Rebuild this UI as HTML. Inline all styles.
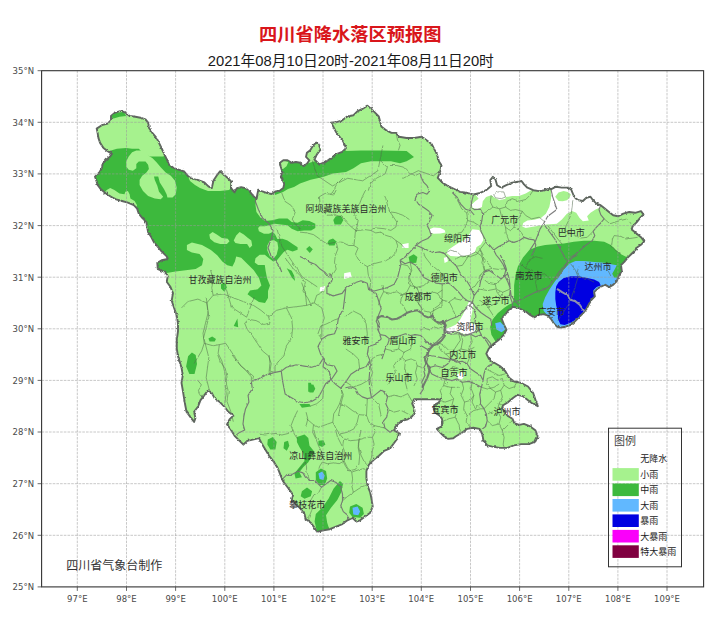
<!DOCTYPE html><html><head><meta charset="utf-8"><title>四川省降水落区预报图</title>
<style>html,body{margin:0;padding:0;background:#fff}svg{display:block}text{font-family:"Liberation Sans","Noto Sans CJK SC",sans-serif}.tk{font-family:"DejaVu Sans",sans-serif;font-size:8.5px;fill:#4a4a4a}.city{font-size:9px;fill:#2b2b2b}.lg{font-size:9px;fill:#222}</style></head><body>
<svg width="713" height="625" viewBox="0 0 713 625">
<rect width="713" height="625" fill="#fff"/>
<defs><clipPath id="prov"><path d="M115.2,112.6 L121.1,110.9 L125.3,112.6 L129.6,116.0 L135.4,116.8 L140.5,117.7 L145.5,119.4 L148.1,122.7 L148.9,127.8 L152.3,132.8 L156.5,137.9 L159.0,142.9 L161.5,148.0 L164.1,153.9 L166.6,158.9 L169.1,164.8 L174.2,168.2 L179.2,169.8 L184.2,171.5 L187.6,175.7 L191.0,178.3 L197.7,179.9 L204.4,182.5 L208.4,186.4 L211.8,188.1 L213.5,180.5 L216.8,175.4 L220.2,171.2 L223.6,174.6 L227.8,178.0 L231.1,181.3 L231.1,188.1 L234.5,192.3 L237.0,188.1 L241.2,187.2 L245.4,188.1 L249.6,191.4 L253.0,195.6 L256.4,199.0 L258.1,190.6 L262.3,191.4 L267.3,193.1 L271.5,194.0 L275.7,191.4 L279.9,190.6 L283.3,188.1 L284.2,183.9 L282.5,179.6 L280.8,177.1 L282.5,172.1 L280.8,167.0 L279.9,162.8 L283.3,160.3 L287.5,160.3 L291.7,162.8 L295.9,162.0 L300.1,162.8 L303.5,166.2 L306.9,163.7 L309.4,160.3 L306.0,156.9 L306.9,152.7 L310.2,150.2 L312.8,146.0 L316.1,142.6 L318.7,144.3 L320.7,149.4 L316.9,154.4 L314.4,159.5 L319.4,164.5 L325.7,162.0 L330.8,158.2 L335.8,154.4 L342.2,151.9 L346.0,148.1 L343.4,141.8 L339.6,136.7 L335.8,131.7 L333.3,126.6 L330.8,122.8 L335.8,122.3 L342.2,120.3 L347.2,116.5 L353.5,115.2 L357.3,111.4 L362.4,108.9 L367.4,105.6 L371.2,108.9 L375.0,112.7 L378.8,116.5 L380.1,121.5 L381.3,126.6 L386.4,130.4 L391.5,132.9 L396.5,132.9 L399.0,136.7 L406.6,138.0 L414.2,138.0 L421.8,136.7 L426.9,140.5 L431.9,144.3 L434.4,149.4 L437.0,154.4 L439.0,161.4 L441.5,165.2 L440.2,171.5 L437.7,177.8 L442.8,182.9 L449.1,186.7 L460.0,191.9 L466.8,192.8 L473.5,194.5 L480.2,192.8 L486.1,190.2 L491.2,186.0 L490.3,180.1 L492.9,176.8 L495.4,179.3 L497.1,185.2 L501.3,187.7 L506.3,185.2 L512.2,182.7 L518.1,181.8 L521.5,181.0 L524.0,184.4 L527.4,187.7 L533.3,190.2 L539.2,191.1 L545.0,190.2 L550.1,188.6 L550.9,189.3 L556.0,186.7 L561.9,187.6 L567.8,187.6 L571.1,189.3 L572.8,193.5 L574.5,197.7 L578.7,200.2 L582.9,201.0 L586.3,197.7 L590.5,196.8 L593.0,200.2 L596.4,203.6 L600.6,205.2 L604.8,208.6 L609.0,212.0 L613.2,215.3 L618.3,216.2 L623.3,213.7 L629.2,212.0 L635.1,212.8 L641.0,211.1 L643.5,214.5 L640.1,217.9 L636.8,222.1 L632.6,226.3 L631.7,229.6 L635.9,233.0 L641.0,237.2 L644.3,241.4 L641.0,244.8 L635.9,248.2 L636.1,249.3 L631.9,253.5 L627.7,257.7 L624.3,261.9 L621.0,265.2 L621.8,271.1 L618.5,276.2 L616.8,281.2 L613.4,284.6 L609.2,287.1 L605.0,284.6 L601.6,286.3 L597.4,288.8 L594.1,292.2 L594.9,296.4 L591.5,299.7 L589.0,304.0 L586.5,309.0 L583.1,313.2 L578.9,317.4 L574.7,321.6 L570.5,325.0 L565.4,326.7 L561.2,327.5 L557.0,326.7 L553.7,323.3 L551.1,319.1 L547.8,315.7 L543.6,314.1 L538.5,314.9 L534.3,317.4 L530.1,314.9 L525.9,311.5 L521.7,309.8 L519.2,308.1 L512.9,306.9 L509.1,309.4 L505.3,314.5 L501.5,318.3 L504.0,324.6 L506.5,329.6 L504.0,334.7 L499.0,339.7 L493.9,343.5 L488.8,348.6 L486.3,353.7 L488.8,358.7 L493.9,362.5 L500.2,366.3 L505.3,371.3 L509.1,377.7 L514.1,381.5 L520.4,382.7 L528.0,386.5 L533.1,392.8 L535.6,400.4 L537.8,406.2 L532.7,403.7 L527.7,399.9 L522.6,396.1 L517.6,394.8 L513.3,397.8 L508.2,402.1 L503.1,405.2 L502.1,407.9 L504.9,412.2 L508.2,416.3 L512.5,418.8 L514.3,423.1 L519.3,424.9 L523.9,423.9 L530.2,426.4 L535.3,430.2 L537.8,436.5 L535.3,441.6 L528.9,444.1 L521.3,444.1 L513.8,445.4 L507.4,447.9 L499.9,447.9 L492.3,446.6 L487.2,445.4 L483.4,440.3 L482.2,434.0 L479.6,428.9 L473.3,427.7 L467.0,428.9 L461.9,432.7 L455.6,436.5 L453.3,438.3 L448.3,438.9 L443.2,435.7 L439.4,431.9 L436.9,428.8 L440.7,426.9 L442.6,423.1 L441.9,418.7 L439.4,415.5 L435.6,413.0 L433.7,409.2 L434.4,404.8 L438.2,402.9 L441.3,399.7 L436.8,399.3 L431.8,399.3 L425.1,399.1 L420.0,399.3 L414.1,399.1 L412.2,403.5 L414.1,407.9 L414.8,413.0 L411.6,416.8 L407.8,419.3 L402.8,420.6 L399.0,423.1 L395.2,426.9 L394.5,430.7 L399.0,433.2 L397.7,438.3 L393.9,443.3 L390.1,448.4 L384.1,450.8 L379.0,455.8 L374.0,459.6 L368.9,464.7 L366.4,471.0 L366.4,478.6 L367.7,486.2 L370.2,492.5 L371.5,498.8 L372.7,506.4 L370.2,512.7 L365.1,516.5 L360.1,520.3 L356.3,521.6 L352.5,517.8 L347.4,520.3 L342.4,524.1 L336.1,526.6 L329.7,529.2 L323.4,530.4 L317.1,531.7 L314.6,527.9 L310.8,522.8 L305.7,519.0 L304.5,514.0 L300.7,508.9 L295.6,503.9 L291.8,500.1 L293.1,495.0 L290.6,491.2 L286.8,486.2 L283.0,481.1 L280.4,474.8 L277.9,468.5 L274.1,462.2 L269.1,455.8 L265.3,449.5 L261.5,443.2 L259.0,438.1 L253.9,439.4 L247.2,440.9 L243.4,444.7 L239.6,440.9 L234.6,435.8 L230.8,429.5 L227.0,424.5 L229.5,419.4 L233.3,415.6 L228.3,411.8 L224.5,406.8 L219.4,401.7 L214.4,397.9 L211.8,392.9 L208.0,390.3 L204.2,395.4 L200.4,400.4 L197.9,406.8 L194.1,411.8 L195.4,418.1 L194.1,421.9 L190.3,416.9 L186.5,411.8 L185.3,405.5 L184.0,397.9 L182.8,390.3 L181.5,382.8 L182.8,375.2 L181.5,367.6 L178.0,356.3 L176.8,348.7 L176.8,339.9 L178.0,331.0 L178.0,323.4 L176.8,315.8 L174.2,308.3 L171.7,300.7 L173.0,293.1 L170.4,286.8 L166.7,281.7 L167.9,275.4 L164.1,271.6 L157.8,269.1 L157.3,262.8 L161.6,260.2 L167.9,259.0 L166.7,256.4 L161.6,251.4 L156.5,245.1 L154.0,242.3 L151.4,237.2 L148.1,232.2 L147.2,227.1 L146.4,222.1 L142.2,217.9 L138.8,213.7 L137.1,208.6 L133.8,205.2 L127.9,202.7 L122.0,201.0 L116.1,199.4 L111.0,196.8 L106.0,193.5 L100.9,189.3 L97.6,185.0 L96.4,180.8 L95.0,176.6 L99.3,172.4 L101.8,168.2 L102.6,164.0 L106.0,159.7 L110.2,156.4 L111.9,153.9 L107.7,151.3 L103.5,148.0 L100.1,142.9 L98.4,137.9 L97.6,132.8 L96.7,128.6 L101.8,125.2 L107.7,123.6 L111.0,120.2 L111.0,116.0Z"/></clipPath><filter id="rough" x="-2%" y="-2%" width="104%" height="104%"><feTurbulence type="fractalNoise" baseFrequency="0.3" numOctaves="2" seed="7" result="n"/><feDisplacementMap in="SourceGraphic" in2="n" scale="2.6" xChannelSelector="R" yChannelSelector="G"/></filter><filter id="rough2" x="-2%" y="-2%" width="104%" height="104%"><feTurbulence type="fractalNoise" baseFrequency="0.22" numOctaves="2" seed="3" result="n"/><feDisplacementMap in="SourceGraphic" in2="n" scale="2.4" xChannelSelector="R" yChannelSelector="G"/></filter></defs>
<path d="M115.2,112.6 L121.1,110.9 L125.3,112.6 L129.6,116.0 L135.4,116.8 L140.5,117.7 L145.5,119.4 L148.1,122.7 L148.9,127.8 L152.3,132.8 L156.5,137.9 L159.0,142.9 L161.5,148.0 L164.1,153.9 L166.6,158.9 L169.1,164.8 L174.2,168.2 L179.2,169.8 L184.2,171.5 L187.6,175.7 L191.0,178.3 L197.7,179.9 L204.4,182.5 L208.4,186.4 L211.8,188.1 L213.5,180.5 L216.8,175.4 L220.2,171.2 L223.6,174.6 L227.8,178.0 L231.1,181.3 L231.1,188.1 L234.5,192.3 L237.0,188.1 L241.2,187.2 L245.4,188.1 L249.6,191.4 L253.0,195.6 L256.4,199.0 L258.1,190.6 L262.3,191.4 L267.3,193.1 L271.5,194.0 L275.7,191.4 L279.9,190.6 L283.3,188.1 L284.2,183.9 L282.5,179.6 L280.8,177.1 L282.5,172.1 L280.8,167.0 L279.9,162.8 L283.3,160.3 L287.5,160.3 L291.7,162.8 L295.9,162.0 L300.1,162.8 L303.5,166.2 L306.9,163.7 L309.4,160.3 L306.0,156.9 L306.9,152.7 L310.2,150.2 L312.8,146.0 L316.1,142.6 L318.7,144.3 L320.7,149.4 L316.9,154.4 L314.4,159.5 L319.4,164.5 L325.7,162.0 L330.8,158.2 L335.8,154.4 L342.2,151.9 L346.0,148.1 L343.4,141.8 L339.6,136.7 L335.8,131.7 L333.3,126.6 L330.8,122.8 L335.8,122.3 L342.2,120.3 L347.2,116.5 L353.5,115.2 L357.3,111.4 L362.4,108.9 L367.4,105.6 L371.2,108.9 L375.0,112.7 L378.8,116.5 L380.1,121.5 L381.3,126.6 L386.4,130.4 L391.5,132.9 L396.5,132.9 L399.0,136.7 L406.6,138.0 L414.2,138.0 L421.8,136.7 L426.9,140.5 L431.9,144.3 L434.4,149.4 L437.0,154.4 L439.0,161.4 L441.5,165.2 L440.2,171.5 L437.7,177.8 L442.8,182.9 L449.1,186.7 L460.0,191.9 L466.8,192.8 L473.5,194.5 L480.2,192.8 L486.1,190.2 L491.2,186.0 L490.3,180.1 L492.9,176.8 L495.4,179.3 L497.1,185.2 L501.3,187.7 L506.3,185.2 L512.2,182.7 L518.1,181.8 L521.5,181.0 L524.0,184.4 L527.4,187.7 L533.3,190.2 L539.2,191.1 L545.0,190.2 L550.1,188.6 L550.9,189.3 L556.0,186.7 L561.9,187.6 L567.8,187.6 L571.1,189.3 L572.8,193.5 L574.5,197.7 L578.7,200.2 L582.9,201.0 L586.3,197.7 L590.5,196.8 L593.0,200.2 L596.4,203.6 L600.6,205.2 L604.8,208.6 L609.0,212.0 L613.2,215.3 L618.3,216.2 L623.3,213.7 L629.2,212.0 L635.1,212.8 L641.0,211.1 L643.5,214.5 L640.1,217.9 L636.8,222.1 L632.6,226.3 L631.7,229.6 L635.9,233.0 L641.0,237.2 L644.3,241.4 L641.0,244.8 L635.9,248.2 L636.1,249.3 L631.9,253.5 L627.7,257.7 L624.3,261.9 L621.0,265.2 L621.8,271.1 L618.5,276.2 L616.8,281.2 L613.4,284.6 L609.2,287.1 L605.0,284.6 L601.6,286.3 L597.4,288.8 L594.1,292.2 L594.9,296.4 L591.5,299.7 L589.0,304.0 L586.5,309.0 L583.1,313.2 L578.9,317.4 L574.7,321.6 L570.5,325.0 L565.4,326.7 L561.2,327.5 L557.0,326.7 L553.7,323.3 L551.1,319.1 L547.8,315.7 L543.6,314.1 L538.5,314.9 L534.3,317.4 L530.1,314.9 L525.9,311.5 L521.7,309.8 L519.2,308.1 L512.9,306.9 L509.1,309.4 L505.3,314.5 L501.5,318.3 L504.0,324.6 L506.5,329.6 L504.0,334.7 L499.0,339.7 L493.9,343.5 L488.8,348.6 L486.3,353.7 L488.8,358.7 L493.9,362.5 L500.2,366.3 L505.3,371.3 L509.1,377.7 L514.1,381.5 L520.4,382.7 L528.0,386.5 L533.1,392.8 L535.6,400.4 L537.8,406.2 L532.7,403.7 L527.7,399.9 L522.6,396.1 L517.6,394.8 L513.3,397.8 L508.2,402.1 L503.1,405.2 L502.1,407.9 L504.9,412.2 L508.2,416.3 L512.5,418.8 L514.3,423.1 L519.3,424.9 L523.9,423.9 L530.2,426.4 L535.3,430.2 L537.8,436.5 L535.3,441.6 L528.9,444.1 L521.3,444.1 L513.8,445.4 L507.4,447.9 L499.9,447.9 L492.3,446.6 L487.2,445.4 L483.4,440.3 L482.2,434.0 L479.6,428.9 L473.3,427.7 L467.0,428.9 L461.9,432.7 L455.6,436.5 L453.3,438.3 L448.3,438.9 L443.2,435.7 L439.4,431.9 L436.9,428.8 L440.7,426.9 L442.6,423.1 L441.9,418.7 L439.4,415.5 L435.6,413.0 L433.7,409.2 L434.4,404.8 L438.2,402.9 L441.3,399.7 L436.8,399.3 L431.8,399.3 L425.1,399.1 L420.0,399.3 L414.1,399.1 L412.2,403.5 L414.1,407.9 L414.8,413.0 L411.6,416.8 L407.8,419.3 L402.8,420.6 L399.0,423.1 L395.2,426.9 L394.5,430.7 L399.0,433.2 L397.7,438.3 L393.9,443.3 L390.1,448.4 L384.1,450.8 L379.0,455.8 L374.0,459.6 L368.9,464.7 L366.4,471.0 L366.4,478.6 L367.7,486.2 L370.2,492.5 L371.5,498.8 L372.7,506.4 L370.2,512.7 L365.1,516.5 L360.1,520.3 L356.3,521.6 L352.5,517.8 L347.4,520.3 L342.4,524.1 L336.1,526.6 L329.7,529.2 L323.4,530.4 L317.1,531.7 L314.6,527.9 L310.8,522.8 L305.7,519.0 L304.5,514.0 L300.7,508.9 L295.6,503.9 L291.8,500.1 L293.1,495.0 L290.6,491.2 L286.8,486.2 L283.0,481.1 L280.4,474.8 L277.9,468.5 L274.1,462.2 L269.1,455.8 L265.3,449.5 L261.5,443.2 L259.0,438.1 L253.9,439.4 L247.2,440.9 L243.4,444.7 L239.6,440.9 L234.6,435.8 L230.8,429.5 L227.0,424.5 L229.5,419.4 L233.3,415.6 L228.3,411.8 L224.5,406.8 L219.4,401.7 L214.4,397.9 L211.8,392.9 L208.0,390.3 L204.2,395.4 L200.4,400.4 L197.9,406.8 L194.1,411.8 L195.4,418.1 L194.1,421.9 L190.3,416.9 L186.5,411.8 L185.3,405.5 L184.0,397.9 L182.8,390.3 L181.5,382.8 L182.8,375.2 L181.5,367.6 L178.0,356.3 L176.8,348.7 L176.8,339.9 L178.0,331.0 L178.0,323.4 L176.8,315.8 L174.2,308.3 L171.7,300.7 L173.0,293.1 L170.4,286.8 L166.7,281.7 L167.9,275.4 L164.1,271.6 L157.8,269.1 L157.3,262.8 L161.6,260.2 L167.9,259.0 L166.7,256.4 L161.6,251.4 L156.5,245.1 L154.0,242.3 L151.4,237.2 L148.1,232.2 L147.2,227.1 L146.4,222.1 L142.2,217.9 L138.8,213.7 L137.1,208.6 L133.8,205.2 L127.9,202.7 L122.0,201.0 L116.1,199.4 L111.0,196.8 L106.0,193.5 L100.9,189.3 L97.6,185.0 L96.4,180.8 L95.0,176.6 L99.3,172.4 L101.8,168.2 L102.6,164.0 L106.0,159.7 L110.2,156.4 L111.9,153.9 L107.7,151.3 L103.5,148.0 L100.1,142.9 L98.4,137.9 L97.6,132.8 L96.7,128.6 L101.8,125.2 L107.7,123.6 L111.0,120.2 L111.0,116.0Z" fill="#a6f28e"/>
<g clip-path="url(#prov)">
<path d="M108.5,151.3 L116.9,148.8 L126.2,148.0 L132.1,148.8 L138.8,148.8 L140.5,150.5 L149.7,156.4 L163.2,156.4 L175.0,150.0 L200.0,160.0 L250.0,185.0 L256.4,197.0 L256.4,197.6 L255.5,205.1 L256.4,211.9 L260.6,217.8 L264.8,221.1 L272.4,220.3 L279.1,218.6 L287.5,218.6 L291.7,222.0 L297.6,222.8 L302.7,220.3 L309.4,221.1 L315.3,223.7 L315.3,227.9 L311.1,230.4 L304.3,230.4 L297.6,231.2 L291.7,228.7 L287.5,225.3 L280.8,224.5 L274.9,223.7 L264.8,226.2 L259.7,226.2 L258.1,227.9 L258.9,231.2 L264.0,233.8 L269.0,233.8 L272.4,232.1 L274.9,234.1 L277.4,239.1 L282.5,238.8 L287.5,240.5 L292.6,243.9 L297.6,247.2 L297.6,249.7 L292.6,251.4 L287.5,249.7 L284.2,251.4 L280.8,255.6 L277.4,259.8 L273.2,261.5 L269.0,258.2 L264.8,254.8 L259.7,254.8 L255.5,258.2 L254.7,262.4 L258.1,264.9 L264.8,264.9 L265.6,270.8 L267.0,278.0 L270.0,285.5 L268.0,291.0 L268.0,298.0 L265.0,303.0 L259.0,302.0 L252.6,298.0 L247.5,294.3 L250.0,290.6 L257.7,289.3 L261.4,285.5 L259.0,278.0 L253.8,270.3 L247.5,264.0 L241.2,257.7 L236.2,256.4 L234.9,261.5 L232.4,266.5 L227.3,265.3 L222.3,261.5 L217.2,255.2 L210.9,250.1 L202.0,245.1 L191.9,242.5 L186.9,245.1 L186.9,250.1 L191.9,252.6 L199.5,253.9 L203.3,259.0 L202.0,265.3 L195.7,269.1 L185.6,270.3 L175.5,271.6 L166.7,272.9 L150.0,272.0 L140.0,240.0 L90.0,190.0 L85.0,160.0Z M110.2,116.8 L113.6,113.5 L123.7,111.8 L126.2,116.0 L119.5,116.8 L113.6,118.5Z M283.0,192.0 L288.0,189.0 L294.0,187.0 L300.0,183.5 L310.6,179.7 L323.0,177.0 L333.0,173.4 L346.0,172.0 L353.5,168.3 L361.0,163.2 L371.0,161.2 L391.0,161.2 L400.0,163.2 L406.6,161.2 L414.0,157.0 L406.6,151.0 L381.0,150.6 L361.0,150.6 L346.0,151.0 L340.0,140.0 L300.0,140.0 L270.0,160.0 L275.0,195.0Z M335.8,216.3 L340.9,215.8 L343.4,220.1 L340.9,224.4 L334.6,224.4 L333.3,220.1Z M329.0,240.0 L333.0,238.6 L336.5,241.5 L334.5,245.6 L329.0,245.6 L327.5,242.5Z M306.1,248.9 L309.4,245.9 L312.8,249.3 L309.8,253.1Z M408.6,256.9 L413.7,254.3 L417.4,256.9 L416.2,262.7 L409.9,263.2Z M221.0,284.2 L225.2,282.6 L226.9,287.6 L224.4,291.8 L221.0,288.5Z M286.7,268.3 L291.7,270.8 L294.2,275.8 L295.1,280.9 L291.7,277.5 L289.2,272.5Z M233.7,326.0 L237.4,318.4 L238.2,327.2Z M208.4,338.6 L212.2,336.6 L216.0,339.1 L214.7,341.6 L209.6,341.6Z M188.1,356.3 L191.9,352.5 L195.7,355.0 L197.0,363.9 L194.5,374.0 L189.4,374.0 L186.1,366.4Z M308.2,382.8 L310.8,382.8 L312.5,386.6 L311.5,391.7 L308.2,391.7Z M309.5,385.1 L313.3,384.6 L315.3,388.8 L313.3,392.6 L309.5,392.6 L308.3,388.8Z M299.4,404.0 L309.5,404.0 L310.8,406.5 L301.9,407.8Z M267.8,439.4 L272.9,436.9 L276.7,441.9 L275.4,449.5 L270.3,449.5 L267.3,444.5Z M284.2,441.9 L288.0,440.7 L289.3,445.7 L286.8,450.8 L283.5,448.3Z M296.9,436.9 L304.5,434.4 L308.3,438.1 L309.5,445.7 L314.6,452.1 L312.1,455.8 L308.3,462.2 L303.2,467.2 L299.4,472.3 L301.9,477.3 L295.6,478.6 L294.4,473.5 L299.4,467.2 L304.5,460.9 L303.2,453.3 L299.4,447.0 L296.9,441.9Z M318.4,440.7 L323.4,440.2 L325.4,444.5 L322.2,447.0 L318.4,445.2Z M315.8,472.3 L320.9,468.5 L326.0,471.0 L327.2,478.6 L324.7,484.9 L319.6,484.9 L315.8,479.9Z M301.9,491.2 L307.0,487.4 L312.1,491.2 L310.8,496.3 L304.5,498.8 L300.7,496.3Z M339.9,481.1 L343.1,483.7 L341.1,492.5 L337.3,500.1 L331.0,507.7 L326.0,515.3 L327.2,522.8 L329.7,530.4 L317.1,532.2 L314.6,521.6 L315.8,514.0 L322.2,507.7 L328.5,498.8 L333.5,488.7Z M350.0,506.4 L356.3,503.9 L362.6,507.7 L363.9,514.0 L360.1,517.8 L352.5,517.0 L349.2,512.7Z M495.2,341.0 L491.4,334.7 L490.1,327.1 L492.6,319.5 L497.7,313.2 L504.0,308.1 L509.1,304.4 L512.9,303.1 L514.1,295.5 L514.1,285.4 L515.4,275.3 L517.9,266.4 L523.0,257.6 L529.3,250.0 L536.8,246.7 L545.2,245.0 L553.7,244.2 L563.8,243.4 L573.9,241.7 L584.0,240.8 L594.1,240.8 L604.2,241.7 L610.9,245.0 L615.9,250.1 L621.0,254.3 L626.0,256.8 L629.4,256.0 L660.0,250.0 L660.0,340.0 L500.0,345.0Z" fill="#3db93d"/>
<path d="M145.5,149.6 L140.5,150.5 L136.3,150.5 L132.1,152.2 L128.7,156.4 L126.2,161.4 L126.2,166.5 L128.7,169.8 L132.9,170.7 L136.3,168.2 L136.3,164.0 L138.8,161.4 L145.5,161.4 L148.1,164.8 L148.9,169.0 L146.4,172.4 L142.2,175.7 L139.6,179.9 L139.6,185.0 L143.0,190.9 L148.1,195.9 L154.8,198.5 L160.7,199.3 L163.2,196.8 L159.0,191.7 L157.3,185.8 L154.8,179.9 L154.0,176.6 L158.2,176.6 L159.8,182.5 L164.1,189.2 L166.6,194.2 L167.4,197.6 L172.5,197.6 L175.8,194.2 L176.7,187.5 L175.0,180.8 L170.8,175.7 L165.7,172.4 L160.7,167.3 L156.5,162.3 L152.3,158.1 L149.7,156.4 L148.1,154.7Z M106.8,190.1 L110.2,188.1 L114.4,190.1 L119.5,193.5 L124.5,194.3 L125.3,191.8 L127.9,190.9 L129.6,194.3 L130.4,198.5 L134.6,201.0 L137.1,205.2 L135.4,208.6 L123.7,204.4 L110.2,199.4 L103.5,193.5Z M187.0,174.0 L190.0,181.0 L195.0,185.0 L200.0,188.0 L208.0,191.0 L220.0,191.0 L229.0,190.0 L232.0,187.0 L236.0,170.0 L215.0,160.0 L190.0,165.0Z M209.3,234.6 L212.6,232.1 L216.8,234.6 L221.9,238.0 L227.8,238.8 L229.5,241.3 L226.9,243.9 L220.2,243.9 L214.3,242.2 L210.1,238.8Z M233.7,240.5 L236.2,235.5 L239.6,232.1 L243.8,234.6 L248.0,238.0 L251.3,240.5 L252.2,245.6 L249.7,248.1 L247.1,243.9 L240.4,243.9 L235.4,243.0Z M269.9,240.5 L267.3,245.6 L267.3,250.6 L269.9,256.5 L273.2,259.0 L276.6,254.8 L278.3,248.1 L277.4,242.2 L274.1,240.2Z M303.0,160.5 L306.0,164.0 L312.0,162.0 L318.5,160.5 L323.0,150.0 L318.0,138.0 L303.0,146.0Z M279.0,159.0 L288.4,162.0 L286.5,166.2 L283.0,169.0 L279.0,168.0Z" fill="#a6f28e"/>
<path d="M476.0,193.6 L476.0,195.3 L478.6,198.7 L475.2,201.2 L471.8,204.6 L472.7,207.9 L477.7,209.1 L481.9,207.1 L482.8,201.2 L486.1,197.0 L491.2,195.3 L494.6,197.8 L499.6,200.3 L505.5,198.7 L505.5,197.0 L512.2,196.1 L519.0,196.1 L525.7,193.6 L529.9,191.1 L534.1,188.6 L522.3,176.8 L488.7,173.4 L480.2,188.6Z M551.0,190.0 L556.0,180.0 L572.0,180.0 L578.0,194.0 L588.0,196.0 L592.0,192.0 L602.0,198.0 L606.0,208.6 L601.4,206.9 L595.6,209.5 L590.5,212.8 L587.1,216.2 L588.8,220.4 L582.9,221.2 L579.6,217.9 L576.2,212.8 L572.0,211.1 L566.9,213.7 L561.9,219.6 L556.8,223.8 L546.7,224.6 L540.0,225.5 L525.7,228.1 L522.3,226.4 L523.2,223.1 L527.4,220.6 L534.1,219.7 L540.9,218.0 L545.9,213.8 L549.3,207.1 L551.0,198.7Z M472.4,229.2 L479.1,230.1 L482.5,235.1 L483.3,240.2 L480.8,244.4 L476.6,246.9 L474.9,251.9 L470.7,255.0 L464.0,256.1 L457.2,256.6 L450.5,256.1 L446.3,252.8 L448.8,249.4 L453.9,246.0 L458.9,242.7 L464.0,240.2 L468.2,235.9Z M443.8,257.8 L447.1,257.0 L448.0,261.2 L444.6,262.9Z M429.5,229.2 L433.7,227.5 L440.4,228.0 L444.6,230.1 L445.5,232.6 L440.4,233.4 L433.7,233.8 L430.3,232.6Z M402.3,244.2 L408.6,243.0 L408.6,248.0 L402.3,248.0Z M344.1,273.3 L350.4,272.0 L351.7,277.1 L344.1,278.9Z M320.1,287.2 L325.2,285.9 L323.9,291.0 L319.6,291.5Z M469.4,301.0 L473.1,303.5 L472.5,310.3 L471.1,317.0 L470.3,322.9 L475.3,324.6 L476.2,329.6 L472.8,333.8 L467.7,334.7 L462.7,333.8 L458.5,331.3 L454.3,332.1 L449.2,333.8 L445.0,333.0 L445.5,329.1 L450.9,327.1 L456.0,324.6 L460.2,319.5 L463.5,313.6 L466.1,307.7Z M456.9,374.6 L461.9,372.0 L464.5,375.8 L461.9,379.6 L458.1,378.4Z" fill="#fff"/>
<path d="M555.2,196.8 L558.5,192.6 L563.6,190.9 L567.8,191.9 L570.8,194.5 L569.5,197.8 L567.0,200.2 L562.7,201.2 L558.5,201.0Z" fill="#a6f28e"/>
<path d="M553.7,323.3 L547.8,315.7 L543.6,310.7 L542.7,304.0 L545.2,297.2 L549.5,289.6 L554.5,282.1 L559.6,275.3 L564.6,268.6 L569.6,263.6 L575.5,261.0 L584.0,261.0 L594.1,261.9 L604.2,262.7 L612.6,264.4 L616.8,265.2 L614.2,270.3 L612.2,273.7 L614.2,277.4 L619.3,277.9 L627.7,283.8 L587.3,327.5 L562.1,330.9Z M495.2,323.3 L500.2,322.1 L504.0,325.8 L505.3,329.6 L501.5,332.2 L496.4,329.6Z M318.4,473.5 L322.2,471.5 L324.7,475.6 L323.4,479.9 L319.6,479.1Z M352.5,507.7 L357.6,506.4 L360.1,511.5 L358.3,515.3 L353.3,514.5Z" fill="#61b8ff"/>
<path d="M558.7,282.1 L563.8,277.9 L570.5,276.2 L578.9,276.2 L587.3,277.9 L594.1,279.6 L599.1,282.1 L600.8,285.4 L596.6,287.1 L593.2,290.5 L594.1,296.4 L590.7,299.7 L588.2,304.8 L585.6,309.0 L582.3,313.2 L578.1,317.4 L573.9,320.8 L569.6,323.3 L564.6,325.0 L560.4,324.2 L557.9,319.1 L557.9,312.4 L556.2,305.6 L555.3,298.9 L555.3,292.2 L556.2,286.3Z" fill="#0000e1"/>
<path d="M340.8,388.2 L343.3,394.5 L340.8,404.6 L338.3,416.0 M285.2,258.0 L292.8,268.1 L300.3,275.7 L305.4,283.3 L302.9,290.9 L307.9,298.4 L311.7,306.0 M321.8,338.9 L318.0,333.8 L320.6,326.3 L326.9,323.7 L334.5,319.9 L338.3,318.7 M345.8,316.1 L353.4,311.1 L361.0,314.9 L366.1,323.7 L367.3,333.8 L366.1,344.0 M345.8,349.0 L353.4,354.1 L358.5,359.1 L359.7,369.2 M372.4,398.3 L378.7,404.6 L381.2,416.0 M345.8,381.9 L353.4,386.9 L361.0,384.4 L369.9,379.3 M319.4,196.7 L325.2,193.4 L333.7,195.0 L336.2,190.0 M319.4,196.7 L320.2,205.1 L322.7,210.2 L326.9,215.2 L336.2,215.2 L342.1,216.9 L346.3,222.0 L350.5,226.2 L355.5,230.4 L357.2,226.2 L358.1,220.3 L353.9,215.2 L355.5,208.5 L359.7,203.5 L362.3,196.7 L365.6,190.0 M355.5,230.4 L354.7,238.8 L353.9,245.5 L358.1,248.1 L355.5,254.0 L358.1,259.0 L363.1,264.1 L367.3,266.6 L372.4,264.1 L379.1,262.4 L385.8,260.7 L391.7,257.3 L395.9,252.3 L397.6,245.5 L395.9,240.5 L391.7,237.1 L385.8,235.4 L380.8,232.1 L375.7,232.9 L370.7,230.4 L364.8,229.6 L359.7,230.4 L355.5,230.4 M370.7,230.4 L375.7,227.9 L384.2,228.7 L390.9,230.4 L395.9,227.0 L396.8,222.0 L393.4,216.9 L390.0,211.9 L387.5,205.1 L385.8,198.4 L384.2,195.0 M390.0,211.9 L395.9,212.7 L402.7,215.2 L409.4,219.5 M395.9,240.5 L401.0,243.9 L404.3,248.1 M300.0,232.1 L306.7,232.9 L313.5,234.6 L319.4,238.8 L326.9,243.9 L336.2,242.2 L342.1,242.2 L348.8,245.5 L353.9,245.5 M336.2,242.2 L337.9,248.9 L335.3,255.6 L334.5,262.4 L336.2,269.1 L331.1,277.5 M367.3,266.6 L368.2,274.2 L370.7,280.9 L369.8,289.3 M401.0,264.1 L407.7,265.7 L411.1,270.8 L409.4,277.5 L411.9,284.2 L417.8,289.3 M281.7,192.8 L284.9,201.3 L291.2,205.5 L295.4,211.8 L292.3,219.2 L295.4,224.5 L300.7,228.7 M343.0,178.0 L336.6,184.4 L332.4,192.8 L330.3,193.9 M381.0,161.1 L387.3,167.5 L385.2,173.8 L376.8,178.0 L370.4,183.3 L368.3,190.7 M421.9,247.7 L425.2,257.0 L430.3,263.7 L436.2,268.8 L442.1,273.8 L448.8,283.1 M444.6,253.6 L450.5,250.2 L457.2,251.9 L462.3,257.0 L469.0,255.3 L475.7,251.9 L480.8,255.3 L484.2,262.0 L484.2,272.1 M456.4,266.2 L462.3,265.4 L469.0,255.3 M410.1,262.0 L411.8,270.4 L408.4,277.2 L410.1,285.6 L406.7,292.3 L400.0,295.7 M410.1,285.6 L416.8,287.3 L423.6,285.6 L429.5,280.5 M416.8,287.3 L420.2,295.7 L418.5,304.1 L423.6,310.8 L430.3,312.5 L436.2,309.2 L442.1,305.8 L442.1,295.7 L442.1,283.9 M430.3,312.5 L432.0,319.2 L438.7,324.3 L445.4,321.8 M479.1,289.0 L487.5,290.6 L495.9,289.0 L502.7,292.3 L510.2,289.0 M475.7,307.5 L484.2,304.1 L490.9,305.8 L497.6,302.4 L502.7,292.3 M491.2,195.3 L490.3,202.0 L492.9,207.1 L499.6,208.8 L505.5,207.1 L510.5,210.4 L515.6,209.6 L522.3,211.3 L525.7,215.5 L531.6,218.9 L539.2,217.2 L545.0,222.2 M482.8,213.8 L488.7,210.4 L492.9,207.1 M505.5,207.1 L507.2,201.2 L512.2,198.7 L519.0,201.2 L525.7,199.5 L529.9,195.3 L533.3,190.2 M499.6,208.8 L501.3,215.5 L503.8,220.5 L505.5,227.3 L510.5,230.6 L513.9,227.3 L515.6,220.5 L519.8,217.2 L522.3,211.3 M505.5,227.3 L506.3,234.0 L508.9,240.7 M513.9,227.3 L519.0,229.8 L522.3,234.0 L524.0,237.4 M493.7,194.5 L497.1,191.9 L503.8,191.9 L505.5,197.0 L501.3,198.7 L495.4,197.8 L493.7,194.5 M455.0,197.0 L458.4,202.0 L461.7,208.8 L466.8,213.0 L471.0,207.1 M466.8,213.0 L467.6,220.5 L465.1,227.3 L461.7,232.3 L455.0,234.0 M467.6,220.5 L473.5,222.2 L480.2,226.4 M455.0,259.2 L461.7,255.9 L470.1,256.7 L476.9,254.2 L480.2,249.2 L486.1,241.6 M480.2,249.2 L483.6,255.9 L481.9,262.6 L484.5,270.0 M572.9,200.2 L572.1,207.0 L571.2,213.7 L568.7,220.4 L566.2,225.5 L564.5,230.5 L570.4,233.1 L575.4,235.6 L580.5,238.1 L587.2,237.3 L593.1,231.4 M547.7,225.5 L552.7,232.2 L557.8,239.0 L562.0,244.0 M604.1,218.8 L609.9,223.8 L615.0,222.1 L620.9,220.4 L627.6,218.8 L631.0,223.8 M612.5,239.0 L614.2,235.6 L620.9,236.4 L625.9,239.0 L632.7,238.1 L637.7,237.3 M612.5,239.0 L611.6,245.7 L615.8,250.7 L620.9,254.1 M578.8,266.7 L577.1,272.6 L580.5,277.7 M609.1,262.5 L607.4,269.2 L610.8,276.0 M470.0,288.7 L475.0,286.2 L478.4,281.1 L480.1,275.2 L485.1,270.2 L491.9,268.5 L498.6,269.4 L506.2,268.5 M480.1,250.0 L482.6,256.7 L486.8,261.8 L491.9,268.5 M480.1,275.2 L486.8,282.0 L495.2,283.7 L500.3,280.3 L504.5,275.2 M495.2,283.7 L496.9,292.1 L502.0,298.8 L509.6,295.4 M480.1,300.5 L486.8,305.5 L494.4,317.3 M520.5,263.5 L525.5,268.5 L532.3,270.2 L537.3,275.2 L535.6,282.0 L537.3,291.2 M525.5,268.5 L528.9,260.1 L535.6,256.7 L542.4,258.4 M537.3,275.2 L545.7,273.6 L552.5,282.0 M578.1,277.0 L573.9,290.5 L568.8,304.0 L562.1,314.1 L557.9,320.8 M578.1,277.0 L587.3,278.7 L594.1,282.1 M570.5,263.6 L575.5,270.3 L578.1,277.0 M445.2,325.9 L438.5,328.4 L433.5,326.7 L430.1,330.1 L425.0,328.4 L420.0,330.1 M458.7,333.5 L460.4,340.2 L457.0,345.2 L453.7,350.3 L451.1,359.6 M470.5,334.3 L472.2,341.9 L468.8,348.6 L470.5,355.3 L467.1,363.8 M436.8,341.9 L443.6,345.2 L448.6,350.3 L453.7,350.3 M445.2,378.9 L443.6,385.6 L440.2,390.7 L441.9,395.7 L441.0,399.1 M485.6,368.8 L492.4,372.2 L499.1,375.5 L505.0,373.9 M481.4,387.3 L487.3,389.0 L494.1,387.3 L499.1,384.0 M443.6,385.6 L450.3,387.3 L458.7,387.3 M323.6,390.2 L322.7,398.6 L316.8,403.7 L310.1,406.2 M341.2,386.8 L342.1,395.2 L339.6,403.7 L337.0,408.7 L333.7,413.8 L332.8,422.2 L336.2,428.9 L339.6,434.0 L343.8,439.0 L342.9,444.1 M339.6,403.7 L345.4,405.3 L352.2,410.4 L358.9,414.6 L366.5,415.4 L367.3,398.6 M358.9,414.6 L357.2,422.2 L353.9,428.9 L347.1,432.3 L339.6,434.0 M366.5,415.4 L369.0,422.2 L374.1,425.5 L380.8,427.2 L385.0,428.1 M374.1,425.5 L374.9,432.3 L372.4,437.3 L374.1,444.1 L372.4,450.8 L371.5,457.5 L368.2,467.6 M343.8,439.0 L350.5,440.7 L358.9,439.8 L367.3,437.3 L372.4,437.3 M358.9,439.8 L358.1,447.4 L359.7,455.8 L358.9,464.2 L355.5,469.3 L348.8,471.0 L345.4,465.9 L342.1,459.2 L342.9,444.1 M313.5,424.7 L318.5,427.2 L323.6,425.5 L332.8,422.2 M313.5,424.7 L312.6,432.3 L316.0,439.0 L318.5,445.7 L321.9,452.5 M306.7,418.8 L313.5,424.7 M387.5,396.9 L394.2,395.2 L401.0,396.9 L407.7,393.6 L411.9,401.1 M388.4,409.6 L394.2,412.1 L401.0,410.4 L407.7,413.8 L411.9,416.3 M269.1,355.0 L269.9,363.4 L269.1,371.8 L269.9,376.0 M217.8,355.0 L220.3,361.7 L225.3,368.5 L227.0,376.9 L225.3,385.3 L226.2,393.7 L224.5,405.5 M232.1,355.0 L238.8,363.4 L245.5,370.1 L251.4,376.9 L251.4,381.9 M197.6,380.2 L201.8,385.3 L198.4,390.3 L200.1,395.4 L204.3,395.4 M297.7,410.5 L294.3,417.3 L291.0,425.7 L294.3,434.1 L297.7,439.2 M306.1,412.2 L307.8,419.0 L306.1,425.7 M181.5,307.9 L187.8,301.6 L197.9,299.1 L206.8,302.9 L213.1,295.3 L211.8,287.7 L213.1,280.1 L210.6,270.0 M206.8,302.9 L208.0,313.0 L205.5,323.1 L203.0,333.2 L204.2,343.3 L201.7,350.9 L197.9,357.2 L194.1,363.5 M213.1,295.3 L223.2,294.0 L233.3,297.8 L243.4,301.6 L253.5,305.4 L261.1,310.4 L268.7,316.8 L270.0,323.1 L263.7,324.4 L256.1,320.6 L248.5,319.3 L244.7,323.1 L247.2,329.4 L252.3,335.7 L257.3,343.3 L262.4,350.9 L268.7,356.0 L271.2,363.5 L270.0,371.1 L275.0,372.4 M204.2,343.3 L213.1,345.8 L219.4,344.6 L225.7,343.3 L230.8,350.9 L235.8,358.5 L240.9,366.1 L247.2,371.1 L253.5,376.2 L252.3,381.2 M219.4,344.6 L218.1,353.4 L221.9,361.0 L224.5,371.1 L225.7,381.2 L228.3,391.3 L227.0,401.5 L230.8,411.6 L233.3,421.7 M268.7,316.8 L276.3,310.4 L286.4,307.9 L296.5,306.7 L306.6,305.4 L314.2,302.9 L316.7,295.3 L324.3,291.5 M286.4,307.9 L291.5,318.0 L292.7,328.1 L291.5,338.3 L286.4,345.8 L283.9,356.0 L278.8,361.0 L275.0,366.1 L275.0,372.4 M301.6,282.6 L305.4,292.8 L306.6,305.4 M314.2,302.9 L321.8,307.9 L324.3,318.0 L321.8,325.6 L321.8,337.0 M306.3,465.3 L307.1,472.9 L309.6,480.5 M321.4,487.2 L318.9,492.3 L313.9,494.8 L310.5,500.7 L312.2,509.1 L308.8,517.5 L308.8,523.4 M344.2,461.1 L347.5,467.9 L351.7,472.1 L352.6,478.8 L351.7,485.5 L353.4,492.3 L358.5,488.9 L362.7,486.4 L367.7,484.7 M351.7,472.1 L359.3,469.6 L364.3,468.7 L367.7,472.9 M335.7,430.0 L337.4,436.7 L340.8,443.5 L344.2,450.2 L344.2,461.1 L339.1,463.7 L334.1,462.8 L327.3,463.7 L322.3,462.0 L319.7,466.2 L318.9,468.7 M361.0,430.0 L359.3,438.4 L358.5,446.8 L361.0,455.2 L364.3,462.0 L370.2,467.9 M353.4,492.3 L347.5,496.5 L342.5,500.7 M260.0,434.2 L265.0,435.0 L270.1,434.2 L275.1,433.4 L281.9,435.0 L288.6,433.4 L293.7,430.0 M297.9,471.2 L302.1,466.2 L305.4,462.0 L306.3,465.3 M313.9,430.0 L315.5,436.7 L318.9,440.1 M381.9,285.0 L383.6,291.7 L380.2,298.5 L378.5,305.2 M383.6,291.7 L390.3,293.4 L397.0,291.7 L402.1,295.1 L400.4,301.8 L403.8,306.9 L407.1,312.8 M402.1,295.1 L408.8,293.4 L415.5,295.9 L420.6,293.4 L427.3,295.1 L432.4,291.7 L437.4,293.4 L442.5,290.0 M415.5,295.9 L417.2,301.8 L421.4,306.9 L421.4,312.8 M432.4,315.3 L434.1,308.6 L439.1,305.2 L442.5,300.1 L437.4,293.4 M442.5,300.1 L449.2,301.8 L454.2,298.5 L461.0,300.1 L462.7,297.6 M449.2,301.8 L452.6,308.6 L455.9,317.0 M385.2,349.0 L392.0,350.6 L398.7,349.0 L403.8,352.3 L402.1,357.4 L405.4,360.7 L410.5,359.1 L415.5,360.7 L417.2,365.8 L422.3,367.5 M398.7,349.0 L399.6,342.2 L400.4,335.5 M410.5,335.5 L412.2,342.2 L410.5,349.0 L403.8,352.3 M402.1,357.4 L397.0,360.7 L393.7,365.8 L395.3,372.5 L392.0,377.6 L388.6,384.3 M417.2,365.8 L415.5,372.5 L417.2,379.2 L413.9,386.0 M405.4,360.7 L404.6,369.2 L407.1,375.9 L405.4,382.6 L407.1,389.3 M383.6,354.0 L376.8,355.7 L371.8,359.1 L370.1,365.8 L372.6,372.5 L370.1,379.2 L371.8,386.0 M437.4,343.9 L440.8,350.6 L445.8,354.0 L450.9,359.1 M445.8,354.0 L454.2,352.3 L461.0,349.0 L467.7,350.6 L474.4,347.3 M461.0,333.8 L462.7,340.5 L461.0,349.0 M390.0,165.5 L396.7,165.5 L403.5,167.2 L408.5,172.3 L415.2,175.6 L420.3,173.1 M395.9,131.9 L397.6,140.3 L400.1,145.3 L398.4,150.4 M451.9,386.9 L450.2,393.7 L453.6,398.7 L451.9,405.4 L456.9,410.5 L455.2,417.2 L458.6,424.0 L460.3,430.7 L458.6,435.7 M462.0,381.9 L463.7,388.6 L461.1,395.3 L464.5,402.1 L463.7,408.8 L467.0,415.5 L466.2,422.3 L470.4,427.3 L471.2,429.0 M472.1,381.0 L471.2,388.6 L473.8,395.3 L472.1,402.1 L475.4,408.8 L480.5,403.8 M464.5,402.1 L470.4,400.4 L473.8,395.3 M467.0,415.5 L473.8,410.5 L480.5,408.8 L483.9,408.8 M446.8,384.4 L446.0,376.8 L448.5,370.1 L453.6,366.7 L458.6,368.4 M440.1,400.4 L445.1,402.1 L450.2,400.4 L453.6,398.7 M442.6,421.4 L448.5,418.9 L455.2,417.2 M487.2,378.5 L492.3,376.8 L497.3,380.2 L502.4,378.5 L504.1,385.2 L500.7,390.3 L495.6,392.0 L490.6,388.6 L487.2,383.6 L487.2,378.5 M504.1,385.2 L509.1,388.6 L514.2,386.9 L517.5,381.0 M500.7,390.3 L502.4,397.0 L499.0,403.8 L503.2,405.1 M495.6,392.0 L494.0,398.7 L488.9,403.8 L483.9,408.8 M499.0,403.8 L497.3,410.5 L500.7,417.2 L499.0,424.0 L502.4,430.7 L504.1,437.4 L503.2,444.2 L504.1,448.4 M486.4,413.9 L492.3,412.2 L497.3,410.5 M512.5,418.9 L509.1,424.0 L502.4,430.7 M499.0,424.0 L492.3,425.6 L487.2,420.6 M276.9,228.8 L282.0,246.5 L292.1,261.6 L302.2,276.8 L317.3,286.9 M206.2,297.0 L208.8,317.2 L203.7,337.4 L208.8,357.6 L206.2,377.7 L211.3,397.9 M226.4,289.4 L231.5,307.1 L246.6,317.2 L254.2,297.0 M403.1,178.3 L418.3,170.7 L433.4,175.8 L440.0,170.7 M312.3,160.6 L317.3,175.8 L332.5,185.9 L347.6,178.3 L362.7,180.8 L377.9,170.7 L382.9,145.5" fill="none" stroke="#4f6949" stroke-opacity="0.8" stroke-width="0.65" stroke-linejoin="round" filter="url(#rough2)"/>
<path d="M328.7,273.7 L330.7,274.4 L331.9,280.8 L326.9,287.1 L326.9,293.4 L333.2,295.9 L342.1,293.4 L345.8,288.3 L353.4,283.3 L361.0,280.8 L367.3,283.3 L368.6,289.6 L376.2,293.4 L378.7,301.0 L381.2,308.6 L378.7,314.9 L376.2,321.2 L377.4,323.7 L378.7,331.3 L381.2,338.9 L376.2,344.0 L368.6,346.5 L367.3,354.1 L369.9,360.4 L366.1,366.7 L358.5,369.2 L350.9,374.3 L345.8,381.9 L340.8,388.2 L335.7,384.4 L330.7,379.3 L329.4,371.8 L323.1,366.7 L324.4,359.1 L320.6,354.1 L318.0,346.5 L321.8,338.9 L328.1,335.1 L334.5,333.8 L337.0,327.5 L338.3,318.7 L343.3,308.6 L344.6,298.4 L345.8,288.3 M300.0,256.5 L305.0,259.0 L310.1,262.4 L316.0,264.9 L320.2,269.1 L325.2,272.5 L329.5,277.5 M369.8,289.3 L374.1,291.0 L380.8,289.3 L387.5,287.6 L394.2,284.2 L397.6,277.5 L399.3,270.8 L401.0,264.1 L400.0,260.4 M257.4,191.8 L255.3,201.3 L258.5,209.7 L262.7,218.2 L269.0,223.5 L273.2,230.8 L271.1,239.3 L268.0,247.7 L271.1,256.2 L275.4,260.4 L279.6,266.8 L281.7,272.0 M400.0,260.3 L405.0,257.0 L410.1,251.9 L416.0,245.2 L421.9,241.0 L427.8,238.5 L431.1,235.1 L429.5,230.0 L426.9,225.0 M416.0,245.2 L421.9,247.7 L427.8,250.2 L433.7,252.8 L439.6,251.9 L444.6,253.6 L450.5,260.3 L456.4,266.2 L460.6,273.8 L466.5,280.5 L470.7,287.3 L474.1,295.7 L472.4,302.4 M505.2,265.4 L507.7,273.8 L509.4,280.5 L510.2,289.0 L511.1,295.7 L516.1,302.4 L520.0,305.8 M400.0,260.3 L405.0,263.7 L410.1,262.0 L416.0,265.4 L420.2,271.3 L423.6,277.2 L429.5,280.5 L436.2,283.1 L442.1,283.9 L448.8,283.1 L453.9,287.3 L458.9,292.3 L463.1,297.4 L467.3,300.7 L472.4,302.4 L467.3,307.5 L462.3,312.5 L457.2,316.7 L450.5,319.2 L445.4,321.8 L443.8,326.0 L445.4,330.0 M472.4,302.4 L475.7,307.5 L480.8,312.5 L485.8,315.9 L490.9,319.2 L491.7,326.0 M474.1,295.7 L479.1,289.0 L480.8,280.5 L484.2,272.1 L489.2,270.4 L494.2,273.8 L501.0,278.9 L507.7,273.8 M473.5,194.5 L471.8,201.2 L471.0,207.1 L474.4,209.6 L480.2,209.1 L482.8,213.8 L481.9,220.5 L480.2,226.4 L481.1,231.5 L483.6,236.5 L486.1,241.6 L490.3,245.8 L493.7,250.0 L496.2,255.0 L499.6,259.2 L503.0,264.3 L505.5,270.0 M493.7,250.0 L498.8,246.6 L503.8,244.1 L508.9,240.7 L513.9,242.4 L519.0,240.7 L524.0,237.4 L529.1,239.1 L534.1,239.9 L535.8,244.9 L534.1,250.8 L531.6,255.9 M551.0,189.3 L552.7,196.9 L556.9,209.5 L547.7,216.2 L543.5,223.8 L540.1,228.9 L537.6,235.6 L535.0,242.3 L531.7,247.4 L530.0,249.9 M543.5,223.8 L548.5,230.5 L553.6,237.3 L557.8,244.0 L561.1,250.7 L564.5,256.6 L567.9,261.7 L573.8,255.8 L580.5,249.9 L586.4,244.8 L592.3,240.6 L594.8,235.6 L593.1,231.4 L596.5,227.2 L600.7,223.0 L604.1,218.8 L600.7,214.6 L599.0,209.5 L600.7,205.3 L597.3,201.9 M567.9,261.7 L565.3,266.7 L561.1,272.6 L556.9,279.3 M500.3,255.0 L503.7,261.8 L506.2,268.5 L504.5,275.2 L507.9,282.0 L510.4,288.7 L509.6,295.4 L512.1,302.2 L512.9,306.4 M512.9,302.2 L518.8,300.5 L525.5,297.1 L532.3,293.8 L537.3,291.2 L544.1,289.6 L549.1,286.2 L552.5,282.0 L555.8,276.9 L559.2,271.9 L563.4,266.8 L567.6,261.8 L572.7,257.6 L577.7,255.0 M470.0,305.5 L473.4,308.9 L475.9,315.6 L475.0,322.4 L478.4,329.1 L481.8,335.8 L486.8,341.7 L490.2,347.6 M442.7,320.0 L445.2,325.9 L446.1,331.8 L451.1,334.3 L458.7,333.5 L464.6,336.0 L470.5,334.3 L475.5,336.8 L480.6,335.1 L486.5,338.5 L490.7,343.6 L490.7,347.8 M446.1,331.8 L441.9,336.8 L436.8,341.9 L431.8,345.2 L427.6,349.5 L428.4,355.3 L426.7,362.1 L428.4,368.8 L431.8,373.9 L438.5,377.2 L445.2,378.9 L452.0,380.6 L457.0,378.9 L462.1,382.3 L468.8,381.4 L475.5,384.0 L481.4,387.3 M451.1,359.6 L456.2,362.1 L462.1,361.2 L467.1,363.8 L470.5,368.8 L475.5,372.2 L480.6,375.5 L483.1,380.6 L484.0,373.9 L485.6,368.8 L489.0,365.4 L494.1,362.9 M483.1,380.6 L481.4,387.3 L479.7,394.1 L480.6,400.8 L480.4,403.8 L484.0,408.7 L486.3,413.9 L487.2,420.6 L485.6,426.5 L481.3,429.9 M426.7,362.1 L423.4,368.8 L425.0,375.5 L421.7,382.3 L423.4,389.0 L420.0,394.1 M427.6,349.5 L423.4,346.9 L420.0,345.2 M428.4,355.3 L435.1,356.2 L441.9,357.9 L451.1,359.6 M369.8,360.4 L369.8,370.0 L369.0,380.1 L369.8,388.5 L371.5,397.8 L376.6,393.6 L380.8,390.2 L385.0,391.9 L387.5,396.9 L385.8,403.7 L388.4,409.6 L386.7,417.1 L383.3,421.3 L385.0,428.1 L390.0,432.3 L395.1,428.9 M345.4,387.7 L350.5,386.8 L355.5,388.5 L358.1,393.6 L362.3,396.9 L367.3,398.6 L371.5,397.8 M251.4,381.9 L252.3,388.7 L248.1,395.4 L248.9,402.1 L245.5,408.9 L243.9,416.4 L243.0,424.0 L244.7,429.9 L239.6,432.4 L236.3,434.9 M252.3,381.2 L258.6,378.7 L266.2,374.9 L275.0,372.4 L281.3,371.1 L286.4,367.3 L296.5,364.8 L304.1,366.1 L311.7,367.3 L319.3,364.8 L323.1,358.5 M281.3,371.1 L282.6,381.2 L285.1,393.9 L291.5,397.7 L297.8,401.5 L304.1,402.7 L311.7,401.5 L318.0,397.7 L321.8,391.3 L325.6,383.8 L331.9,378.7 L337.0,371.1 L334.4,366.1 L326.9,364.8 L323.1,358.5 M282.7,478.8 L286.9,474.6 L292.8,474.1 L297.9,471.2 L302.9,472.9 L305.4,477.1 L309.6,480.5 L314.7,480.5 L318.1,483.9 L321.4,487.2 L324.8,484.7 L330.7,480.5 L335.7,482.2 L340.4,486.4 L342.5,494.0 L342.5,500.7 L340.8,505.7 L343.3,511.6 L347.5,515.0 L349.2,519.2 M444.2,330.4 L449.2,332.1 L454.2,331.3 L461.0,333.8 L467.7,334.6 L474.4,332.1 L480.0,330.4 M429.8,367.5 L435.7,365.8 L442.5,367.5 L447.5,364.1 L450.9,359.1 L455.9,359.9 L461.0,364.1 M389.5,338.9 L395.3,337.2 L400.4,335.5 L405.4,333.8 L410.5,335.5 L415.5,334.6 L420.6,335.5 L424.8,339.7 L427.3,343.1 L433.2,345.6 M376.8,317.8 L379.4,323.7 L377.7,329.6 L380.2,334.6 L385.2,335.5 L389.5,338.9 L387.8,343.9 L385.2,349.0 L383.6,354.0 L381.9,359.1 M420.3,173.1 L421.1,177.3 L423.7,182.4 L427.0,185.7 L429.6,190.8 L427.0,194.2 L422.8,192.5 L416.9,194.2 L415.2,199.2 L418.6,204.2 L423.7,207.6 L428.7,211.0 L432.1,215.0 L430.1,220.2 L427.0,225.0 M452.3,192.5 L457.3,197.5 L460.7,204.2 L465.7,209.3 L470.8,211.0 L474.2,215.0" fill="none" stroke="#707070" stroke-opacity="0.9" stroke-width="1.15" stroke-linejoin="round" filter="url(#rough2)"/>
<path d="M557.0,288.8 L562.1,292.2 L568.0,295.5 L570.5,299.7 L575.5,301.4 L579.7,304.8 L583.1,309.8 L584.8,311.5" fill="none" stroke="#8c8fb0" stroke-width="2.0" stroke-linejoin="round" filter="url(#rough2)"/>
<path d="M376.8,317.8 L381.9,316.1 L386.9,317.0 L392.0,319.5 L397.0,318.7 L402.1,316.1 L407.1,312.8 L412.2,311.1 L417.2,310.2 L421.4,312.8 L424.8,316.1 L429.0,317.8 L432.4,315.3 L434.9,320.3 L439.1,322.9 L443.3,321.2 L445.8,325.4 L444.2,330.4 L445.0,335.5 L441.6,340.5 L437.4,343.9 L433.2,345.6 L429.8,349.0 L427.3,354.0 L424.8,359.1 L426.5,364.1 L429.8,367.5 L429.0,372.5 L427.3,377.6 L424.8,382.6 L422.3,387.7" fill="none" stroke="#6c6f6c" stroke-opacity="0.9" stroke-width="2.1" stroke-linejoin="round" filter="url(#rough2)"/>
</g>
<path d="M115.2,112.6 L121.1,110.9 L125.3,112.6 L129.6,116.0 L135.4,116.8 L140.5,117.7 L145.5,119.4 L148.1,122.7 L148.9,127.8 L152.3,132.8 L156.5,137.9 L159.0,142.9 L161.5,148.0 L164.1,153.9 L166.6,158.9 L169.1,164.8 L174.2,168.2 L179.2,169.8 L184.2,171.5 L187.6,175.7 L191.0,178.3 L197.7,179.9 L204.4,182.5 L208.4,186.4 L211.8,188.1 L213.5,180.5 L216.8,175.4 L220.2,171.2 L223.6,174.6 L227.8,178.0 L231.1,181.3 L231.1,188.1 L234.5,192.3 L237.0,188.1 L241.2,187.2 L245.4,188.1 L249.6,191.4 L253.0,195.6 L256.4,199.0 L258.1,190.6 L262.3,191.4 L267.3,193.1 L271.5,194.0 L275.7,191.4 L279.9,190.6 L283.3,188.1 L284.2,183.9 L282.5,179.6 L280.8,177.1 L282.5,172.1 L280.8,167.0 L279.9,162.8 L283.3,160.3 L287.5,160.3 L291.7,162.8 L295.9,162.0 L300.1,162.8 L303.5,166.2 L306.9,163.7 L309.4,160.3 L306.0,156.9 L306.9,152.7 L310.2,150.2 L312.8,146.0 L316.1,142.6 L318.7,144.3 L320.7,149.4 L316.9,154.4 L314.4,159.5 L319.4,164.5 L325.7,162.0 L330.8,158.2 L335.8,154.4 L342.2,151.9 L346.0,148.1 L343.4,141.8 L339.6,136.7 L335.8,131.7 L333.3,126.6 L330.8,122.8 L335.8,122.3 L342.2,120.3 L347.2,116.5 L353.5,115.2 L357.3,111.4 L362.4,108.9 L367.4,105.6 L371.2,108.9 L375.0,112.7 L378.8,116.5 L380.1,121.5 L381.3,126.6 L386.4,130.4 L391.5,132.9 L396.5,132.9 L399.0,136.7 L406.6,138.0 L414.2,138.0 L421.8,136.7 L426.9,140.5 L431.9,144.3 L434.4,149.4 L437.0,154.4 L439.0,161.4 L441.5,165.2 L440.2,171.5 L437.7,177.8 L442.8,182.9 L449.1,186.7 L460.0,191.9 L466.8,192.8 L473.5,194.5 L480.2,192.8 L486.1,190.2 L491.2,186.0 L490.3,180.1 L492.9,176.8 L495.4,179.3 L497.1,185.2 L501.3,187.7 L506.3,185.2 L512.2,182.7 L518.1,181.8 L521.5,181.0 L524.0,184.4 L527.4,187.7 L533.3,190.2 L539.2,191.1 L545.0,190.2 L550.1,188.6 L550.9,189.3 L556.0,186.7 L561.9,187.6 L567.8,187.6 L571.1,189.3 L572.8,193.5 L574.5,197.7 L578.7,200.2 L582.9,201.0 L586.3,197.7 L590.5,196.8 L593.0,200.2 L596.4,203.6 L600.6,205.2 L604.8,208.6 L609.0,212.0 L613.2,215.3 L618.3,216.2 L623.3,213.7 L629.2,212.0 L635.1,212.8 L641.0,211.1 L643.5,214.5 L640.1,217.9 L636.8,222.1 L632.6,226.3 L631.7,229.6 L635.9,233.0 L641.0,237.2 L644.3,241.4 L641.0,244.8 L635.9,248.2 L636.1,249.3 L631.9,253.5 L627.7,257.7 L624.3,261.9 L621.0,265.2 L621.8,271.1 L618.5,276.2 L616.8,281.2 L613.4,284.6 L609.2,287.1 L605.0,284.6 L601.6,286.3 L597.4,288.8 L594.1,292.2 L594.9,296.4 L591.5,299.7 L589.0,304.0 L586.5,309.0 L583.1,313.2 L578.9,317.4 L574.7,321.6 L570.5,325.0 L565.4,326.7 L561.2,327.5 L557.0,326.7 L553.7,323.3 L551.1,319.1 L547.8,315.7 L543.6,314.1 L538.5,314.9 L534.3,317.4 L530.1,314.9 L525.9,311.5 L521.7,309.8 L519.2,308.1 L512.9,306.9 L509.1,309.4 L505.3,314.5 L501.5,318.3 L504.0,324.6 L506.5,329.6 L504.0,334.7 L499.0,339.7 L493.9,343.5 L488.8,348.6 L486.3,353.7 L488.8,358.7 L493.9,362.5 L500.2,366.3 L505.3,371.3 L509.1,377.7 L514.1,381.5 L520.4,382.7 L528.0,386.5 L533.1,392.8 L535.6,400.4 L537.8,406.2 L532.7,403.7 L527.7,399.9 L522.6,396.1 L517.6,394.8 L513.3,397.8 L508.2,402.1 L503.1,405.2 L502.1,407.9 L504.9,412.2 L508.2,416.3 L512.5,418.8 L514.3,423.1 L519.3,424.9 L523.9,423.9 L530.2,426.4 L535.3,430.2 L537.8,436.5 L535.3,441.6 L528.9,444.1 L521.3,444.1 L513.8,445.4 L507.4,447.9 L499.9,447.9 L492.3,446.6 L487.2,445.4 L483.4,440.3 L482.2,434.0 L479.6,428.9 L473.3,427.7 L467.0,428.9 L461.9,432.7 L455.6,436.5 L453.3,438.3 L448.3,438.9 L443.2,435.7 L439.4,431.9 L436.9,428.8 L440.7,426.9 L442.6,423.1 L441.9,418.7 L439.4,415.5 L435.6,413.0 L433.7,409.2 L434.4,404.8 L438.2,402.9 L441.3,399.7 L436.8,399.3 L431.8,399.3 L425.1,399.1 L420.0,399.3 L414.1,399.1 L412.2,403.5 L414.1,407.9 L414.8,413.0 L411.6,416.8 L407.8,419.3 L402.8,420.6 L399.0,423.1 L395.2,426.9 L394.5,430.7 L399.0,433.2 L397.7,438.3 L393.9,443.3 L390.1,448.4 L384.1,450.8 L379.0,455.8 L374.0,459.6 L368.9,464.7 L366.4,471.0 L366.4,478.6 L367.7,486.2 L370.2,492.5 L371.5,498.8 L372.7,506.4 L370.2,512.7 L365.1,516.5 L360.1,520.3 L356.3,521.6 L352.5,517.8 L347.4,520.3 L342.4,524.1 L336.1,526.6 L329.7,529.2 L323.4,530.4 L317.1,531.7 L314.6,527.9 L310.8,522.8 L305.7,519.0 L304.5,514.0 L300.7,508.9 L295.6,503.9 L291.8,500.1 L293.1,495.0 L290.6,491.2 L286.8,486.2 L283.0,481.1 L280.4,474.8 L277.9,468.5 L274.1,462.2 L269.1,455.8 L265.3,449.5 L261.5,443.2 L259.0,438.1 L253.9,439.4 L247.2,440.9 L243.4,444.7 L239.6,440.9 L234.6,435.8 L230.8,429.5 L227.0,424.5 L229.5,419.4 L233.3,415.6 L228.3,411.8 L224.5,406.8 L219.4,401.7 L214.4,397.9 L211.8,392.9 L208.0,390.3 L204.2,395.4 L200.4,400.4 L197.9,406.8 L194.1,411.8 L195.4,418.1 L194.1,421.9 L190.3,416.9 L186.5,411.8 L185.3,405.5 L184.0,397.9 L182.8,390.3 L181.5,382.8 L182.8,375.2 L181.5,367.6 L178.0,356.3 L176.8,348.7 L176.8,339.9 L178.0,331.0 L178.0,323.4 L176.8,315.8 L174.2,308.3 L171.7,300.7 L173.0,293.1 L170.4,286.8 L166.7,281.7 L167.9,275.4 L164.1,271.6 L157.8,269.1 L157.3,262.8 L161.6,260.2 L167.9,259.0 L166.7,256.4 L161.6,251.4 L156.5,245.1 L154.0,242.3 L151.4,237.2 L148.1,232.2 L147.2,227.1 L146.4,222.1 L142.2,217.9 L138.8,213.7 L137.1,208.6 L133.8,205.2 L127.9,202.7 L122.0,201.0 L116.1,199.4 L111.0,196.8 L106.0,193.5 L100.9,189.3 L97.6,185.0 L96.4,180.8 L95.0,176.6 L99.3,172.4 L101.8,168.2 L102.6,164.0 L106.0,159.7 L110.2,156.4 L111.9,153.9 L107.7,151.3 L103.5,148.0 L100.1,142.9 L98.4,137.9 L97.6,132.8 L96.7,128.6 L101.8,125.2 L107.7,123.6 L111.0,120.2 L111.0,116.0Z" fill="none" stroke="#5f665f" stroke-width="1.9" stroke-linejoin="round" filter="url(#rough)"/>
<path d="M77.3,70.7V586.9M126.5,70.7V586.9M175.6,70.7V586.9M224.8,70.7V586.9M273.9,70.7V586.9M323.0,70.7V586.9M372.2,70.7V586.9M421.3,70.7V586.9M470.5,70.7V586.9M519.6,70.7V586.9M568.8,70.7V586.9M617.9,70.7V586.9M667.0,70.7V586.9M41.6,535.3H703.6M41.6,483.7H703.6M41.6,432.0H703.6M41.6,380.4H703.6M41.6,328.8H703.6M41.6,277.2H703.6M41.6,225.6H703.6M41.6,173.9H703.6M41.6,122.3H703.6" fill="none" stroke="#9a9a9a" stroke-width="0.55" stroke-dasharray="2.6,1.1"/>
<rect x="41.6" y="70.7" width="662.0" height="516.2" fill="none" stroke="#333" stroke-width="1.1"/>
<path d="M77.3,586.9v4M126.5,586.9v4M175.6,586.9v4M224.8,586.9v4M273.9,586.9v4M323.0,586.9v4M372.2,586.9v4M421.3,586.9v4M470.5,586.9v4M519.6,586.9v4M568.8,586.9v4M617.9,586.9v4M667.0,586.9v4M41.6,586.9h-4M41.6,535.3h-4M41.6,483.7h-4M41.6,432.0h-4M41.6,380.4h-4M41.6,328.8h-4M41.6,277.2h-4M41.6,225.6h-4M41.6,173.9h-4M41.6,122.3h-4M41.6,70.7h-4" fill="none" stroke="#444" stroke-width="0.8"/>
<text class="tk" x="77.3" y="602.3" text-anchor="middle">97°E</text>
<text class="tk" x="126.5" y="602.3" text-anchor="middle">98°E</text>
<text class="tk" x="175.6" y="602.3" text-anchor="middle">99°E</text>
<text class="tk" x="224.8" y="602.3" text-anchor="middle">100°E</text>
<text class="tk" x="273.9" y="602.3" text-anchor="middle">101°E</text>
<text class="tk" x="323.0" y="602.3" text-anchor="middle">102°E</text>
<text class="tk" x="372.2" y="602.3" text-anchor="middle">103°E</text>
<text class="tk" x="421.3" y="602.3" text-anchor="middle">104°E</text>
<text class="tk" x="470.5" y="602.3" text-anchor="middle">105°E</text>
<text class="tk" x="519.6" y="602.3" text-anchor="middle">106°E</text>
<text class="tk" x="568.8" y="602.3" text-anchor="middle">107°E</text>
<text class="tk" x="617.9" y="602.3" text-anchor="middle">108°E</text>
<text class="tk" x="667.0" y="602.3" text-anchor="middle">109°E</text>
<text class="tk" x="34" y="590.3" text-anchor="end">25°N</text>
<text class="tk" x="34" y="538.7" text-anchor="end">26°N</text>
<text class="tk" x="34" y="487.1" text-anchor="end">27°N</text>
<text class="tk" x="34" y="435.4" text-anchor="end">28°N</text>
<text class="tk" x="34" y="383.8" text-anchor="end">29°N</text>
<text class="tk" x="34" y="332.2" text-anchor="end">30°N</text>
<text class="tk" x="34" y="280.6" text-anchor="end">31°N</text>
<text class="tk" x="34" y="229.0" text-anchor="end">32°N</text>
<text class="tk" x="34" y="177.3" text-anchor="end">33°N</text>
<text class="tk" x="34" y="125.7" text-anchor="end">34°N</text>
<text class="tk" x="34" y="74.1" text-anchor="end">35°N</text>
<text x="350.2" y="41" text-anchor="middle" font-size="18.25" font-weight="bold" fill="#d9161b">四川省降水落区预报图</text>
<text x="350.8" y="65.6" text-anchor="middle" font-size="14.77" fill="#1a1a1a">2021年08月10日20时-2021年08月11日20时</text>
<text x="66.3" y="569.6" font-size="12" fill="#333">四川省气象台制作</text>
<text class="city" x="305.5" y="211.5">阿坝藏族羌族自治州</text>
<text class="city" x="188.6" y="282.5">甘孜藏族自治州</text>
<text class="city" x="491.2" y="223.0">广元市</text>
<text class="city" x="557.7" y="235.5">巴中市</text>
<text class="city" x="584.6" y="269.5">达州市</text>
<text class="city" x="444.0" y="241.7">绵阳市</text>
<text class="city" x="430.8" y="280.9">德阳市</text>
<text class="city" x="404.8" y="299.6">成都市</text>
<text class="city" x="456.6" y="329.7">资阳市</text>
<text class="city" x="342.4" y="343.6">雅安市</text>
<text class="city" x="389.6" y="344.1">眉山市</text>
<text class="city" x="449.3" y="357.6">内江市</text>
<text class="city" x="440.4" y="375.8">自贡市</text>
<text class="city" x="431.6" y="413.0">宜宾市</text>
<text class="city" x="493.5" y="415.0">泸州市</text>
<text class="city" x="385.6" y="380.7">乐山市</text>
<text class="city" x="482.5" y="303.9">遂宁市</text>
<text class="city" x="515.4" y="278.8">南充市</text>
<text class="city" x="537.7" y="315.3">广安市</text>
<text class="city" x="289.3" y="458.6">凉山彝族自治州</text>
<text class="city" x="289.3" y="507.7">攀枝花市</text>
<rect x="608.5" y="428.2" width="73" height="138.6" fill="none" stroke="#333" stroke-width="1"/>
<text x="614" y="444.6" font-size="11" fill="#444">图例</text>
<text class="lg" x="640.2" y="462.2">无降水</text>
<rect x="612.5" y="468.1" width="26.3" height="12.6" fill="#a6f28e"/>
<text class="lg" x="640.2" y="477.7">小雨</text>
<rect x="612.5" y="483.5" width="26.3" height="12.6" fill="#3db93d"/>
<text class="lg" x="640.2" y="493.1">中雨</text>
<rect x="612.5" y="499.0" width="26.3" height="12.6" fill="#61b8ff"/>
<text class="lg" x="640.2" y="508.6">大雨</text>
<rect x="612.5" y="514.4" width="26.3" height="12.6" fill="#0000e1"/>
<text class="lg" x="640.2" y="524.0">暴雨</text>
<rect x="612.5" y="529.9" width="26.3" height="12.6" fill="#fa00fa"/>
<text class="lg" x="640.2" y="539.5">大暴雨</text>
<rect x="612.5" y="545.3" width="26.3" height="12.6" fill="#800040"/>
<text class="lg" x="640.2" y="554.9">特大暴雨</text>
</svg></body></html>
